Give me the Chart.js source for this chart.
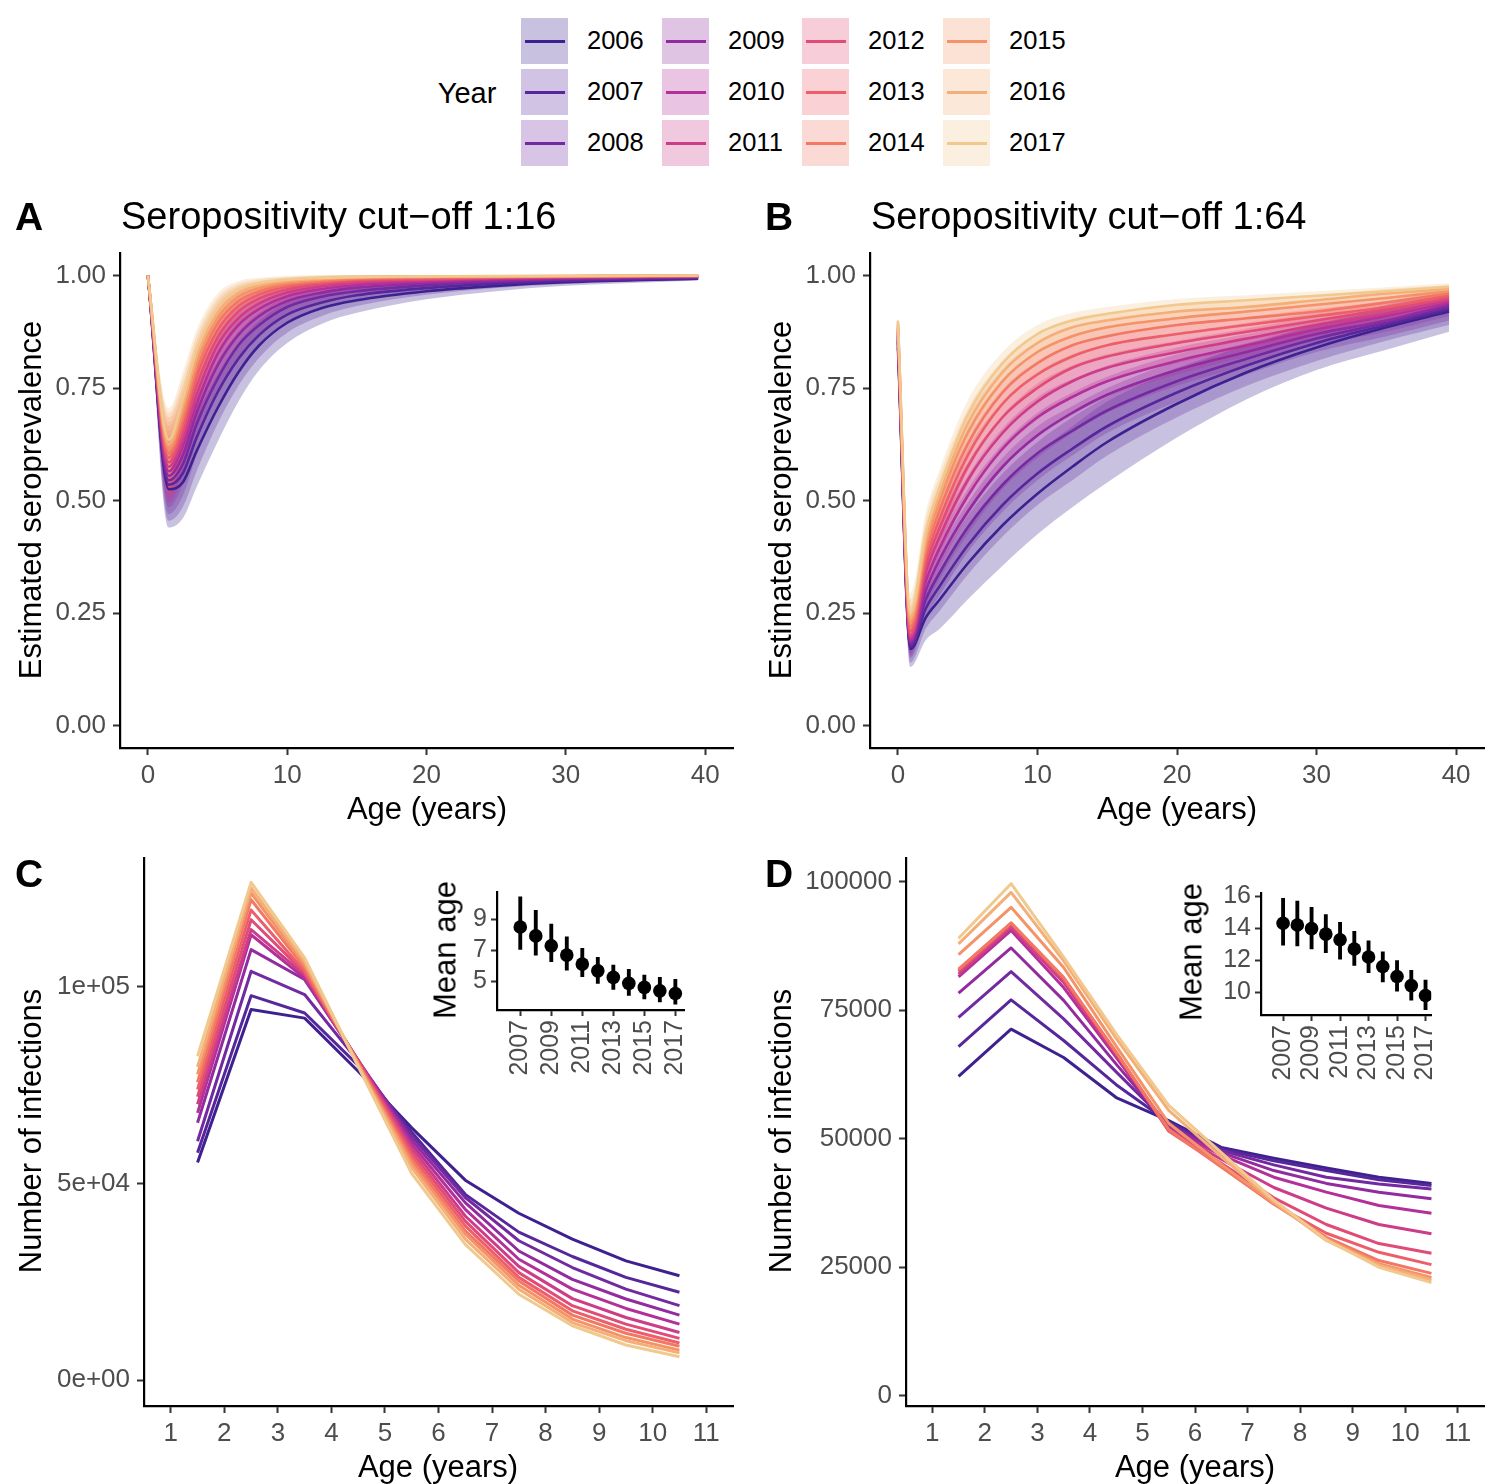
<!DOCTYPE html>
<html>
<head>
<meta charset="utf-8">
<script src="https://cdn.jsdelivr.net/npm/chart.js@4.4.1/dist/chart.umd.min.js"></script>
<style>
  html, body { margin: 0; padding: 0; background: #fff; }
  #page { position: relative; width: 1500px; height: 1484px; overflow: hidden;
          font-family: "Liberation Sans", Arial, Helvetica, sans-serif; color: #000; }
  #page canvas { position: absolute; }
  .t { position: absolute; white-space: nowrap; line-height: 1; }
  .c { transform: translate(-50%, -50%); }
  .v { transform: translate(-50%, -50%) rotate(-90deg); }
  .l { transform: translateY(-50%); }
  .letter { font-weight: bold; font-size: 39px; }
  .ptitle { font-size: 38px; }
  .atitle { font-size: 31px; }
  .key { position: absolute; width: 47px; height: 46px; }
  .key i { position: absolute; left: 4px; top: 21.5px; width: 40px; height: 3px; }
  .klab { font-size: 25.5px; }
</style>
</head>
<body>
<div id="page">
  <canvas id="chartA" width="750" height="611" style="left:0;top:229px"></canvas>
  <canvas id="chartB" width="750" height="611" style="left:750px;top:229px"></canvas>
  <canvas id="chartC" width="750" height="621" style="left:0;top:834px"></canvas>
  <canvas id="chartD" width="750" height="621" style="left:750px;top:834px"></canvas>
  <canvas id="insetC" width="270" height="223" style="left:440px;top:872px"></canvas>
  <canvas id="insetD" width="270" height="227" style="left:1190px;top:873px"></canvas>

  <div class="t l letter" style="left:15px;top:216px">A</div>
  <div class="t l ptitle" style="left:121px;top:216px">Seropositivity cut−off 1:16</div>
  <div class="t l letter" style="left:765px;top:216px">B</div>
  <div class="t l ptitle" style="left:871px;top:216px">Seropositivity cut−off 1:64</div>
  <div class="t l letter" style="left:15px;top:873px">C</div>
  <div class="t l letter" style="left:765px;top:873px">D</div>

  <div class="t v atitle" style="left:30px;top:500px">Estimated seroprevalence</div>
  <div class="t v atitle" style="left:780px;top:500px">Estimated seroprevalence</div>
  <div class="t c atitle" style="left:427px;top:808px">Age (years)</div>
  <div class="t c atitle" style="left:1177px;top:808px">Age (years)</div>
  <div class="t v atitle" style="left:30px;top:1131px">Number of infections</div>
  <div class="t v atitle" style="left:780px;top:1131px">Number of infections</div>
  <div class="t c atitle" style="left:438px;top:1466px">Age (years)</div>
  <div class="t c atitle" style="left:1195px;top:1466px">Age (years)</div>
  <div class="t v atitle" style="left:445px;top:950px">Mean age</div>
  <div class="t v atitle" style="left:1191px;top:952px">Mean age</div>

  <div class="t c" style="left:467px;top:93px;font-size:29px">Year</div>
  <div id="legend"></div>
</div>

<script>
// ---- data -------------------------------------------------------------
var YEARS = [2006, 2007, 2008, 2009, 2010, 2011, 2012, 2013, 2014, 2015, 2016, 2017];
var YEAR_COLORS = ['#3e2190', '#56279b', '#722aa0', '#912b9f', '#b3309a', '#cd3c88',
                   '#e04b77', '#ec5f6a', '#f27864', '#f59368', '#f4ae78', '#f1c98f'];

// Panel A: seroprevalence, cut-off 1:16 (mean and half-width of the band)
var A_AGES = [0, 1.5, 2.5, 3.5, 5, 6.5, 8, 10, 12.5, 15, 20, 25, 30, 39.5];
var A_MEAN = [
    [1.0, 0.525, 0.54, 0.61, 0.705, 0.785, 0.845, 0.895, 0.928, 0.945, 0.965, 0.977, 0.985, 0.993],
    [1.0, 0.535, 0.56, 0.64, 0.74, 0.815, 0.868, 0.913, 0.94, 0.956, 0.972, 0.982, 0.988, 0.994],
    [1.0, 0.545, 0.58, 0.67, 0.77, 0.845, 0.89, 0.93, 0.953, 0.965, 0.978, 0.986, 0.991, 0.996],
    [1.0, 0.555, 0.60, 0.695, 0.80, 0.868, 0.91, 0.943, 0.962, 0.973, 0.983, 0.989, 0.993, 0.997],
    [1.0, 0.565, 0.62, 0.715, 0.825, 0.89, 0.926, 0.954, 0.97, 0.979, 0.987, 0.992, 0.995, 0.998],
    [1.0, 0.575, 0.635, 0.735, 0.845, 0.905, 0.938, 0.962, 0.976, 0.984, 0.99, 0.994, 0.996, 0.998],
    [1.0, 0.585, 0.65, 0.755, 0.862, 0.92, 0.949, 0.969, 0.981, 0.988, 0.992, 0.995, 0.997, 0.999],
    [1.0, 0.595, 0.665, 0.775, 0.878, 0.932, 0.958, 0.975, 0.985, 0.991, 0.994, 0.996, 0.998, 0.999],
    [1.0, 0.605, 0.68, 0.79, 0.893, 0.943, 0.965, 0.98, 0.988, 0.993, 0.996, 0.997, 0.998, 0.999],
    [1.0, 0.615, 0.695, 0.805, 0.905, 0.953, 0.972, 0.984, 0.991, 0.995, 0.997, 0.998, 0.999, 1.0],
    [1.0, 0.625, 0.71, 0.82, 0.917, 0.961, 0.978, 0.988, 0.993, 0.996, 0.998, 0.998, 0.999, 1.0],
    [1.0, 0.635, 0.725, 0.835, 0.928, 0.969, 0.983, 0.991, 0.995, 0.997, 0.998, 0.999, 0.999, 1.0]
];
var A_HW = [
    [0, 0.085, 0.08, 0.08, 0.075, 0.065, 0.055, 0.045, 0.035, 0.028, 0.018, 0.012, 0.008, 0.004],
    [0, 0.08, 0.075, 0.075, 0.07, 0.06, 0.05, 0.04, 0.03, 0.024, 0.015, 0.01, 0.007, 0.004],
    [0, 0.075, 0.07, 0.07, 0.065, 0.055, 0.045, 0.035, 0.026, 0.02, 0.013, 0.009, 0.006, 0.003],
    [0, 0.07, 0.065, 0.065, 0.06, 0.05, 0.04, 0.03, 0.022, 0.017, 0.011, 0.008, 0.005, 0.003],
    [0, 0.07, 0.065, 0.06, 0.055, 0.045, 0.035, 0.026, 0.019, 0.014, 0.009, 0.007, 0.005, 0.002],
    [0, 0.07, 0.065, 0.06, 0.05, 0.04, 0.03, 0.022, 0.016, 0.012, 0.008, 0.006, 0.004, 0.002],
    [0, 0.07, 0.065, 0.055, 0.045, 0.035, 0.026, 0.019, 0.013, 0.01, 0.007, 0.005, 0.003, 0.001],
    [0, 0.07, 0.065, 0.055, 0.042, 0.03, 0.022, 0.016, 0.011, 0.008, 0.006, 0.004, 0.002, 0.001],
    [0, 0.07, 0.06, 0.05, 0.04, 0.027, 0.019, 0.013, 0.009, 0.007, 0.005, 0.003, 0.002, 0.001],
    [0, 0.07, 0.06, 0.05, 0.037, 0.024, 0.016, 0.011, 0.008, 0.006, 0.004, 0.003, 0.002, 0],
    [0, 0.07, 0.06, 0.048, 0.034, 0.021, 0.014, 0.009, 0.007, 0.005, 0.003, 0.002, 0.001, 0],
    [0, 0.07, 0.06, 0.045, 0.032, 0.019, 0.012, 0.008, 0.006, 0.004, 0.003, 0.002, 0.001, 0]
];

// Panel B: seroprevalence, cut-off 1:64
var B_AGES = [0, 0.9, 2, 3, 5, 7.5, 10, 12.5, 15, 20, 25, 30, 35, 39.5];
var B_MEAN = [
    [0.84, 0.17, 0.24, 0.28, 0.36, 0.445, 0.515, 0.575, 0.63, 0.715, 0.785, 0.84, 0.885, 0.92],
    [0.85, 0.175, 0.26, 0.31, 0.40, 0.49, 0.56, 0.615, 0.665, 0.74, 0.80, 0.85, 0.89, 0.925],
    [0.855, 0.18, 0.28, 0.34, 0.44, 0.535, 0.605, 0.655, 0.70, 0.765, 0.815, 0.86, 0.895, 0.93],
    [0.86, 0.185, 0.30, 0.37, 0.475, 0.575, 0.645, 0.695, 0.735, 0.79, 0.83, 0.87, 0.90, 0.935],
    [0.865, 0.19, 0.32, 0.395, 0.51, 0.615, 0.685, 0.73, 0.765, 0.81, 0.845, 0.88, 0.91, 0.94],
    [0.87, 0.195, 0.34, 0.42, 0.545, 0.65, 0.72, 0.765, 0.795, 0.83, 0.86, 0.89, 0.915, 0.945],
    [0.875, 0.20, 0.355, 0.44, 0.575, 0.685, 0.75, 0.795, 0.82, 0.85, 0.875, 0.90, 0.925, 0.95],
    [0.88, 0.21, 0.37, 0.46, 0.60, 0.715, 0.78, 0.82, 0.845, 0.87, 0.89, 0.91, 0.93, 0.955],
    [0.885, 0.22, 0.385, 0.48, 0.625, 0.74, 0.805, 0.845, 0.865, 0.89, 0.905, 0.92, 0.94, 0.96],
    [0.89, 0.23, 0.40, 0.50, 0.65, 0.765, 0.83, 0.865, 0.885, 0.905, 0.92, 0.935, 0.95, 0.965],
    [0.895, 0.24, 0.415, 0.515, 0.67, 0.785, 0.85, 0.885, 0.90, 0.92, 0.93, 0.945, 0.96, 0.97],
    [0.90, 0.25, 0.43, 0.53, 0.69, 0.805, 0.87, 0.90, 0.915, 0.935, 0.945, 0.955, 0.965, 0.975]
];
var B_HW = [
    [0, 0.04, 0.05, 0.065, 0.08, 0.09, 0.09, 0.09, 0.09, 0.075, 0.06, 0.05, 0.05, 0.045],
    [0, 0.035, 0.045, 0.055, 0.065, 0.07, 0.07, 0.07, 0.065, 0.055, 0.045, 0.04, 0.035, 0.035],
    [0, 0.03, 0.04, 0.05, 0.055, 0.06, 0.06, 0.055, 0.05, 0.045, 0.035, 0.03, 0.03, 0.03],
    [0, 0.03, 0.04, 0.045, 0.05, 0.05, 0.05, 0.045, 0.04, 0.035, 0.03, 0.025, 0.025, 0.025],
    [0, 0.03, 0.04, 0.045, 0.045, 0.045, 0.045, 0.04, 0.035, 0.03, 0.025, 0.022, 0.02, 0.02],
    [0, 0.03, 0.04, 0.04, 0.04, 0.04, 0.04, 0.035, 0.03, 0.025, 0.022, 0.02, 0.018, 0.018],
    [0, 0.03, 0.04, 0.04, 0.04, 0.035, 0.035, 0.03, 0.027, 0.022, 0.02, 0.018, 0.016, 0.015],
    [0, 0.03, 0.04, 0.04, 0.035, 0.032, 0.03, 0.027, 0.024, 0.02, 0.018, 0.016, 0.014, 0.013],
    [0, 0.03, 0.04, 0.04, 0.035, 0.03, 0.027, 0.024, 0.021, 0.018, 0.016, 0.014, 0.012, 0.011],
    [0, 0.035, 0.04, 0.04, 0.035, 0.028, 0.024, 0.021, 0.019, 0.016, 0.014, 0.012, 0.011, 0.01],
    [0, 0.04, 0.045, 0.04, 0.033, 0.026, 0.022, 0.019, 0.017, 0.015, 0.013, 0.011, 0.01, 0.009],
    [0, 0.045, 0.045, 0.04, 0.032, 0.025, 0.02, 0.017, 0.015, 0.013, 0.011, 0.01, 0.009, 0.008]
];

// Panels C and D: number of infections by age group
var INF_AGES = [1.5, 2.5, 3.5, 4.5, 5.5, 6.5, 7.5, 8.5, 9.5, 10.5];
var C_INF = [
    [55300, 94200, 92000, 78500, 64100, 50800, 42400, 35800, 30300, 26500],
    [57800, 97700, 93300, 80000, 63000, 47200, 37600, 31400, 26100, 22300],
    [60700, 103900, 98000, 81000, 62000, 46400, 35400, 28600, 23100, 18900],
    [65400, 109400, 101800, 81300, 61000, 45100, 32800, 25600, 20600, 16500],
    [67900, 113200, 102200, 81300, 60000, 43400, 30700, 23100, 18200, 14200],
    [70100, 114500, 103000, 81200, 59000, 41700, 28900, 20700, 15900, 12100],
    [72000, 117000, 103500, 81000, 58000, 40400, 27300, 18900, 14200, 10600],
    [73900, 119500, 103900, 80800, 57000, 39200, 26100, 17600, 12900, 9400],
    [75700, 122100, 104800, 80500, 56000, 37900, 25200, 16500, 11900, 8600],
    [77700, 123800, 105600, 80300, 55000, 37100, 24100, 15500, 10800, 7600],
    [79600, 125100, 106400, 80000, 54000, 35800, 23100, 14600, 10000, 6900],
    [82300, 126500, 107300, 79700, 52500, 34500, 21800, 13800, 8900, 5900]
];
var D_INF = [
    [62100, 71300, 65800, 58000, 53500, 48300, 46200, 44300, 42500, 41300],
    [67900, 77000, 69100, 60500, 53200, 48000, 45700, 43800, 42000, 40900],
    [73600, 82500, 73300, 63000, 52800, 47700, 44900, 42500, 41200, 40200],
    [78300, 87100, 76900, 64500, 52500, 47300, 43800, 41300, 39600, 38300],
    [81500, 90500, 79400, 65800, 52000, 46800, 42500, 39600, 37000, 35500],
    [82000, 91100, 80400, 66300, 51800, 46000, 40500, 36500, 33300, 31500],
    [82500, 91600, 80900, 66700, 51500, 45200, 38500, 33300, 29600, 27700],
    [82800, 91900, 81200, 66800, 51500, 44700, 37300, 31600, 27900, 25500],
    [83000, 92000, 81400, 66800, 51800, 44500, 37300, 30800, 26300, 23800],
    [85800, 95000, 83300, 68000, 53000, 45000, 37500, 30500, 25700, 23000],
    [87900, 97900, 84600, 69500, 55500, 46500, 37700, 30200, 25400, 22500],
    [89000, 99600, 85300, 70400, 56500, 47300, 38100, 30300, 25000, 22000]
];

// Insets: mean age of infection with interval
var INSET_YEARS = [2007, 2008, 2009, 2010, 2011, 2012, 2013, 2014, 2015, 2016, 2017];
var C_MEAN_AGE = [8.50, 7.92, 7.28, 6.68, 6.10, 5.66, 5.24, 4.85, 4.59, 4.37, 4.20];
var C_AGE_LO   = [7.04, 6.68, 6.25, 5.70, 5.28, 4.85, 4.46, 4.08, 3.84, 3.66, 3.51];
var C_AGE_HI   = [10.44, 9.58, 8.68, 7.86, 7.11, 6.53, 6.03, 5.76, 5.39, 5.24, 5.11];
var D_MEAN_AGE = [14.32, 14.21, 13.98, 13.64, 13.29, 12.71, 12.21, 11.61, 10.99, 10.42, 9.80];
var D_AGE_LO   = [12.94, 12.90, 12.71, 12.48, 12.07, 11.68, 11.22, 10.65, 10.07, 9.50, 8.92];
var D_AGE_HI   = [15.87, 15.71, 15.32, 14.86, 14.37, 13.82, 13.22, 12.53, 11.98, 11.38, 10.76];

// tick values / labels
var PREV_TICKS = [0, 0.25, 0.5, 0.75, 1];
var AGE_TICKS = [0, 10, 20, 30, 40];
var GROUP_TICKS = [1, 2, 3, 4, 5, 6, 7, 8, 9, 10, 11];
var C_YTICKS = [0, 50000, 100000];
var C_YLABELS = ['0e+00', '5e+04', '1e+05'];
var D_YTICKS = [0, 25000, 50000, 75000, 100000];
var C_INSET_YTICKS = [5, 7, 9];
var D_INSET_YTICKS = [10, 12, 14, 16];
var INSET_XTICKS = [2007, 2009, 2011, 2013, 2015, 2017];

// ---- helpers ----------------------------------------------------------
var FONT = '"Liberation Sans", Arial, Helvetica, sans-serif';

function rgba(hex, a) {
    var n = parseInt(hex.slice(1), 16);
    return 'rgba(' + (n >> 16) + ',' + ((n >> 8) & 255) + ',' + (n & 255) + ',' + a + ')';
}

// ggplot-like classic axis: black line, short grey ticks, fixed box size
function axis(min, max, ticks, fmt, boxSize, isX, o) {
    o = o || {};
    return {
        type: 'linear',
        min: min,
        max: max,
        offset: false,
        grid: { display: true, offset: false, drawOnChartArea: false, drawTicks: true,
                tickLength: o.tickLength || 7, tickWidth: 2, tickColor: '#333' },
        border: { display: true, color: '#000', width: 2.2 },
        ticks: {
            color: '#4d4d4d',
            font: { family: FONT, size: o.fontSize || 26 },
            padding: o.padding || 5,
            autoSkip: false,
            maxRotation: o.rotate || 0,
            minRotation: o.rotate || 0,
            callback: fmt
        },
        afterBuildTicks: function (s) {
            s.ticks = ticks.map(function (v) { return { value: v }; });
        },
        afterFit: function (s) {
            if (isX) s.height = boxSize; else s.width = boxSize;
        }
    };
}

function baseOptions(pad, scales) {
    return {
        responsive: false,
        animation: false,
        devicePixelRatio: 1,
        events: [],
        layout: { padding: { top: pad.top, right: pad.right, left: 0, bottom: 0 } },
        plugins: {
            legend: { display: false },
            tooltip: { enabled: false },
            colors: { enabled: false },
            filler: { drawTime: 'beforeDatasetsDraw', propagate: false }
        },
        scales: scales
    };
}

// ribbon (lo/hi filled) + mean line for every year; 2017 ends up on top
function ribbonDatasets(ages, means, hws) {
    var ds = [];
    for (var i = YEARS.length - 1; i >= 0; i--) {
        var col = YEAR_COLORS[i];
        var lo = ages.map(function (a, k) { return { x: a, y: means[i][k] - hws[i][k] }; });
        var hi = ages.map(function (a, k) { return { x: a, y: means[i][k] + hws[i][k] }; });
        var mid = ages.map(function (a, k) { return { x: a, y: means[i][k] }; });
        var loIndex = ds.length;
        ds.push({ data: lo, borderWidth: 0, borderColor: 'rgba(0,0,0,0)', pointRadius: 0,
                  fill: false, cubicInterpolationMode: 'monotone' });
        ds.push({ data: hi, borderWidth: 0, borderColor: 'rgba(0,0,0,0)', pointRadius: 0,
                  fill: loIndex, backgroundColor: rgba(col, 0.28), cubicInterpolationMode: 'monotone' });
        ds.push({ data: mid, borderColor: col, borderWidth: 2.6, pointRadius: 0, fill: false,
                  cubicInterpolationMode: 'monotone', borderJoinStyle: 'round' });
    }
    return ds;
}

function lineDatasets(ages, values) {
    var ds = [];
    for (var i = YEARS.length - 1; i >= 0; i--) {
        ds.push({
            data: ages.map(function (a, k) { return { x: a, y: values[i][k] }; }),
            borderColor: YEAR_COLORS[i],
            borderWidth: 3,
            pointRadius: 0,
            fill: false,
            tension: 0,
            borderJoinStyle: 'round'
        });
    }
    return ds;
}

function fmtPrev(v) { return v.toFixed(2); }
function fmtInt(v) { return String(v); }

// ---- panels A, B (plot area 120/870..733/1484 x 253..748) ----------------
new Chart(document.getElementById('chartA'), {
    type: 'line',
    data: { datasets: ribbonDatasets(A_AGES, A_MEAN, A_HW) },
    options: baseOptions({ top: 24, right: 17 }, {
        x: axis(-2, 42, AGE_TICKS, fmtInt, 92, true),
        y: axis(-0.05, 1.05, PREV_TICKS, fmtPrev, 120, false, { padding: 7 })
    })
});

new Chart(document.getElementById('chartB'), {
    type: 'line',
    data: { datasets: ribbonDatasets(B_AGES, B_MEAN, B_HW) },
    options: baseOptions({ top: 24, right: 16 }, {
        x: axis(-2, 42, AGE_TICKS, fmtInt, 92, true),
        y: axis(-0.05, 1.05, PREV_TICKS, fmtPrev, 120, false, { padding: 7 })
    })
});

// ---- panels C, D (plot area top 858, bottom 1406) ------------------------
new Chart(document.getElementById('chartC'), {
    type: 'line',
    data: { datasets: lineDatasets(INF_AGES, C_INF) },
    options: baseOptions({ top: 24, right: 17 }, {
        x: axis(0.5, 11.5, GROUP_TICKS, fmtInt, 49, true),
        y: axis(-6600, 132700, C_YTICKS, function (v) {
            return C_YLABELS[C_YTICKS.indexOf(v)];
        }, 144, false, { padding: 7 })
    })
});

new Chart(document.getElementById('chartD'), {
    type: 'line',
    data: { datasets: lineDatasets(INF_AGES, D_INF) },
    options: baseOptions({ top: 24, right: 16 }, {
        x: axis(0.5, 11.5, GROUP_TICKS, fmtInt, 49, true),
        y: axis(-2000, 104600, D_YTICKS, fmtInt, 156, false, { padding: 7 })
    })
});

// ---- insets: points + interval bars ------------------------------------
function insetChart(id, mean, lo, hi, pad, yMin, yMax, yTicks, yWidth, xMin, xMax) {
    new Chart(document.getElementById(id), {
        type: 'scatter',
        data: {
            datasets: [
                {
                    type: 'scatter',
                    data: INSET_YEARS.map(function (y, k) { return { x: y, y: mean[k] }; }),
                    pointRadius: 6.8,
                    pointBackgroundColor: '#000',
                    pointBorderWidth: 0,
                    showLine: false
                },
                {
                    type: 'bar',
                    data: INSET_YEARS.map(function (y, k) { return { x: y, y: [lo[k], hi[k]] }; }),
                    backgroundColor: '#000',
                    borderWidth: 0,
                    barThickness: 3.2,
                    grouped: false
                }
            ]
        },
        options: baseOptions(pad, {
            x: axis(xMin, xMax, INSET_XTICKS, fmtInt, pad.xh, true,
                    { fontSize: 25, rotate: 90, tickLength: 6, padding: 4 }),
            y: axis(yMin, yMax, yTicks, fmtInt, yWidth, false,
                    { fontSize: 25, tickLength: 6, padding: 4 })
        })
    });
}

insetChart('insetC', C_MEAN_AGE, C_AGE_LO, C_AGE_HI, { top: 20, right: 13, xh: 85 },
           3.13, 10.76, C_INSET_YTICKS, 57, 2005.5, 2017.6);
insetChart('insetD', D_MEAN_AGE, D_AGE_LO, D_AGE_HI, { top: 20, right: 14, xh: 85 },
           8.58, 16.21, D_INSET_YTICKS, 71, 2005.45, 2017.4);

// ---- legend ------------------------------------------------------------
(function () {
    var colX = [521, 662, 802, 943];
    var rowY = [18, 69, 120];
    var html = '';
    YEARS.forEach(function (yr, i) {
        var x = colX[Math.floor(i / 3)], y = rowY[i % 3];
        html += '<div class="key" style="left:' + x + 'px;top:' + y + 'px;background:' + rgba(YEAR_COLORS[i], 0.28) + '">'
            + '<i style="background:' + YEAR_COLORS[i] + '"></i></div>'
            + '<div class="t l klab" style="left:' + (x + 66) + 'px;top:' + (y + 23) + 'px">' + yr + '</div>';
    });
    document.getElementById('legend').innerHTML = html;
})();
</script>
</body>
</html>
